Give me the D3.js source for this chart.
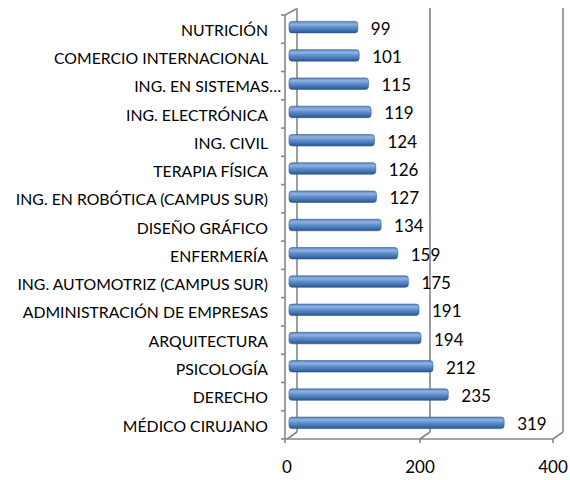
<!DOCTYPE html>
<html>
<head>
<meta charset="utf-8">
<script src="https://cdn.jsdelivr.net/npm/d3@7"></script>
<style>
  body { margin: 0; background: #fff; }
  text { font-family: Lato, "Open Sans", sans-serif; fill: #000; }
</style>
</head>
<body>
<svg id="chart" width="570" height="480"></svg>
<script>
// careers, top to bottom
const careers = [
    "NUTRICIÓN",
    "COMERCIO INTERNACIONAL",
    "ING. EN SISTEMAS…",
    "ING. ELECTRÓNICA",
    "ING. CIVIL",
    "TERAPIA FÍSICA",
    "ING. EN ROBÓTICA (CAMPUS SUR)",
    "DISEÑO GRÁFICO",
    "ENFERMERÍA",
    "ING. AUTOMOTRIZ (CAMPUS SUR)",
    "ADMINISTRACIÓN DE EMPRESAS",
    "ARQUITECTURA",
    "PSICOLOGÍA",
    "DERECHO",
    "MÉDICO CIRUJANO"
];
const counts = [99, 101, 115, 119, 124, 126, 127, 134, 159, 175, 191, 194, 212, 235, 319];
const xTicks = [0, 200, 400];

const svg = d3.select("#chart");

// front plane of the 3d box, back plane shifted by depth
const depth = { dx: 10, dy: -7 };
const yTop = 15, yBottom = 439;
const x = d3.scaleLinear().domain([0, 400]).range([287, 553]);
const y = d3.scaleBand().domain(careers).range([yTop, yBottom]);
const gridColor = "#868686";

// gradient for the bars
const defs = svg.append("defs");
const grad = defs.append("linearGradient")
    .attr("id", "barGrad")
    .attr("x1", 0).attr("y1", 0).attr("x2", 0).attr("y2", 1);
grad.append("stop").attr("offset", "0%").attr("stop-color", "#5b88c4");
grad.append("stop").attr("offset", "25%").attr("stop-color", "#8fb2e0");
grad.append("stop").attr("offset", "50%").attr("stop-color", "#5f8fcc");
grad.append("stop").attr("offset", "80%").attr("stop-color", "#3f6fae");
grad.append("stop").attr("offset", "100%").attr("stop-color", "#2c5386");

// back wall gridlines
const walls = svg.append("g")
    .attr("fill", "none")
    .attr("stroke", gridColor)
    .attr("stroke-width", 1.6);

walls.selectAll(".grid")
    .data(xTicks)
    .enter()
    .append("line")
    .attr("x1", d => x(d) + depth.dx)
    .attr("x2", d => x(d) + depth.dx)
    .attr("y1", yTop + depth.dy)
    .attr("y2", yBottom + depth.dy);

// floor diagonals
walls.selectAll(".diag")
    .data(xTicks)
    .enter()
    .append("line")
    .attr("x1", d => x(d))
    .attr("y1", yBottom)
    .attr("x2", d => x(d) + depth.dx)
    .attr("y2", yBottom + depth.dy);

// top-left corner of left wall
walls.append("line")
    .attr("x1", x(0) - 2).attr("y1", yTop)
    .attr("x2", x(0) + depth.dx - 1).attr("y2", yTop + depth.dy + 1);

// left wall front edge
walls.append("line")
    .attr("x1", x(0) - 2).attr("y1", yTop)
    .attr("x2", x(0) - 2).attr("y2", yBottom);

// floor front edge
walls.append("line")
    .attr("x1", x(0) - 2).attr("y1", yBottom)
    .attr("x2", x(400)).attr("y2", yBottom);

// category ticks
const catTicks = careers.map(c => y(c)).concat([yBottom]);
walls.selectAll(".ctick")
    .data(catTicks)
    .enter()
    .append("line")
    .attr("x1", x(0) - 6).attr("x2", x(0) - 2)
    .attr("y1", d => d).attr("y2", d => d);

// value ticks
walls.selectAll(".vtick")
    .data(xTicks)
    .enter()
    .append("line")
    .attr("x1", d => x(d) - (d === 0 ? 2 : 0))
    .attr("x2", d => x(d) - (d === 0 ? 2 : 0))
    .attr("y1", yBottom).attr("y2", yBottom + 4);

// bars
const barH = 11.5;
const barOff = { dx: 5, dy: -2 };
svg.append("g")
    .selectAll("rect")
    .data(careers)
    .enter()
    .append("rect")
    .attr("x", x(0) + 2)
    .attr("y", d => y(d) + y.bandwidth() / 2 + barOff.dy - barH / 2)
    .attr("width", (d, i) => x(counts[i]) + barOff.dx - x(0) - 2)
    .attr("height", barH)
    .attr("rx", 3)
    .attr("ry", 3)
    .attr("fill", "url(#barGrad)")
    .attr("stroke", "#2f5a8f")
    .attr("stroke-width", 0.6);

// value labels
svg.append("g")
    .selectAll("text")
    .data(careers)
    .enter()
    .append("text")
    .attr("x", (d, i) => x(counts[i]) + barOff.dx + 13)
    .attr("y", d => y(d) + y.bandwidth() / 2)
    .attr("dy", "0.32em")
    .style("font-size", "17px")
    .text((d, i) => counts[i]);

// category labels
svg.append("g")
    .selectAll("text")
    .data(careers)
    .enter()
    .append("text")
    .attr("x", d => d.endsWith("…") ? 281 : 268)
    .attr("y", d => y(d) + y.bandwidth() / 2 + 1)
    .attr("dy", "0.36em")
    .attr("text-anchor", "end")
    .style("font-size", "15.8px")
    .text(d => d);

// x axis labels
svg.append("g")
    .selectAll("text")
    .data(xTicks)
    .enter()
    .append("text")
    .attr("x", d => x(d))
    .attr("y", 467)
    .attr("dy", "0.36em")
    .attr("text-anchor", "middle")
    .style("font-size", "17px")
    .text(d => d);
</script>
</body>
</html>
